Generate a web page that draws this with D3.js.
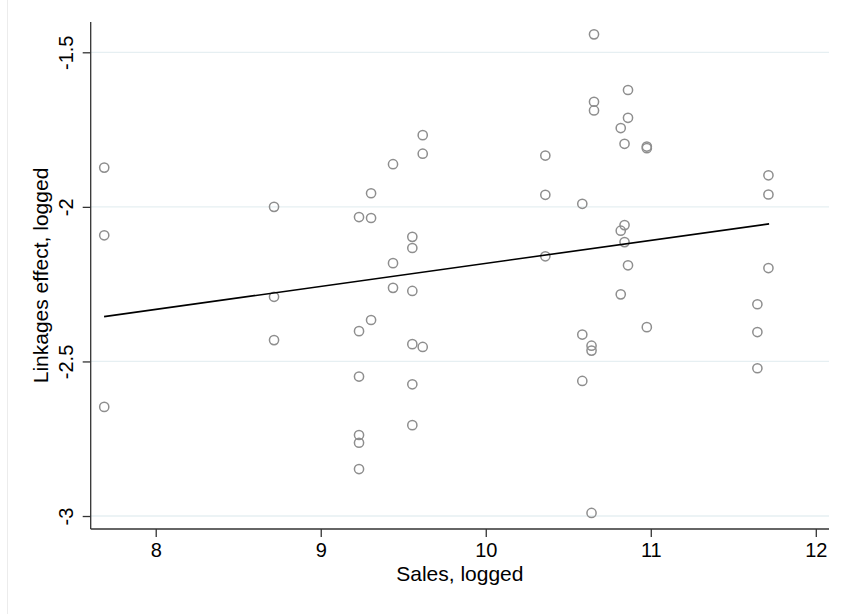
<!DOCTYPE html>
<html>
<head>
<meta charset="utf-8">
<script src="https://cdn.jsdelivr.net/npm/d3@7"></script>
<style>
  html, body { margin: 0; padding: 0; background: #ffffff; }
  svg { display: block; }
  text { font-family: Arial, "Liberation Sans", Helvetica, sans-serif; fill: #000; }
</style>
</head>
<body>
<svg id="chart" width="845" height="614"></svg>
<script>
// Data
const salesLogged = [
  7.688, 7.688, 7.688,
  8.717, 8.717, 8.717,
  9.232, 9.232, 9.232, 9.232, 9.232, 9.232,
  9.305, 9.305, 9.305,
  9.438, 9.438, 9.438,
  9.555, 9.555, 9.555, 9.555, 9.555, 9.555,
  9.618, 9.618, 9.618,
  10.361, 10.361, 10.361,
  10.585, 10.585, 10.585,
  10.641, 10.641, 10.641,
  10.656, 10.656, 10.656,
  10.818, 10.818, 10.818,
  10.841, 10.841, 10.841,
  10.862, 10.862, 10.862,
  10.976, 10.976, 10.976,
  11.646, 11.646, 11.646,
  11.713, 11.713, 11.713
];
const linkagesLogged = [
  -1.873, -2.092, -2.647,
  -2.000, -2.291, -2.431,
  -2.033, -2.402, -2.549, -2.738, -2.763, -2.848,
  -1.956, -2.036, -2.366,
  -1.862, -2.182, -2.262,
  -2.097, -2.133, -2.272, -2.444, -2.574, -2.706,
  -1.768, -1.828, -2.453,
  -1.834, -1.961, -2.160,
  -1.990, -2.413, -2.563,
  -2.449, -2.465, -2.990,
  -1.442, -1.660, -1.688,
  -1.745, -2.077, -2.283,
  -1.796, -2.059, -2.114,
  -1.622, -1.712, -2.189,
  -1.805, -1.810, -2.389,
  -2.315, -2.405, -2.522,
  -1.898, -1.960, -2.198
];
// Fitted line endpoints (linear fit)
const fitX = [7.687, 11.717];
const fitY = [-2.355, -2.055];
const xTicks = [8, 9, 10, 11, 12];
const yTicks = [-1.5, -2, -2.5, -3];
const yTickLabels = ["-1.5", "-2", "-2.5", "-3"];
const xTitle = "Sales, logged";
const yTitle = "Linkages effect, logged";

const svg = d3.select("#chart");
const x = d3.scaleLinear().domain([7.606, 12.08]).range([90.7, 829]);
const y = d3.scaleLinear().domain([-3.042, -1.402]).range([529, 22]);

// faint outer frame edge
svg.append("line").attr("x1", 7.5).attr("x2", 7.5).attr("y1", 0).attr("y2", 614)
  .attr("stroke", "#ececec").attr("stroke-width", 1);

// gridlines
svg.append("g").selectAll("line").data(yTicks).join("line")
  .attr("x1", x.range()[0]).attr("x2", 829)
  .attr("y1", d => y(d)).attr("y2", d => y(d))
  .attr("stroke", "#e6eff2").attr("stroke-width", 1.3);

// y axis
const yAxis = d3.axisLeft(y).tickValues(yTicks).tickSize(8).tickPadding(10)
  .tickFormat((d, i) => yTickLabels[i]);
const gy = svg.append("g").attr("transform", `translate(${x.range()[0]},0)`).call(yAxis);
gy.select(".domain").attr("d", `M0,22V529`).attr("stroke", "#333").attr("stroke-width", 1.3);
gy.selectAll(".tick line").attr("stroke", "#333").attr("stroke-width", 1.3);
gy.selectAll(".tick text")
  .attr("font-size", 20).attr("font-family", "Arial, 'Liberation Sans', sans-serif")
  .attr("x", null).attr("dy", null)
  .attr("text-anchor", "middle")
  .attr("transform", "translate(-18,0) rotate(-90)")
  .attr("y", 0);

// x axis
const xAxis = d3.axisBottom(x).tickValues(xTicks).tickSize(8).tickPadding(6)
  .tickFormat(d => String(d));
const gx = svg.append("g").attr("transform", "translate(0,529)").call(xAxis);
gx.select(".domain").attr("d", `M${x.range()[0]},0H829`).attr("stroke", "#333").attr("stroke-width", 1.3);
gx.selectAll(".tick line").attr("stroke", "#333").attr("stroke-width", 1.3);
gx.selectAll(".tick text")
  .attr("font-size", 20).attr("font-family", "Arial, 'Liberation Sans', sans-serif")
  .attr("dy", null).attr("y", 28);

// points
svg.append("g").selectAll("circle").data(salesLogged.map((v, i) => [v, linkagesLogged[i]]))
  .join("circle")
  .attr("cx", d => x(d[0])).attr("cy", d => y(d[1]))
  .attr("r", 4.6)
  .attr("fill", "none").attr("stroke", "#8e8e8e").attr("stroke-width", 1.5);

// fit line
svg.append("path")
  .datum(fitX.map((v, i) => [v, fitY[i]]))
  .attr("d", d3.line().x(d => x(d[0])).y(d => y(d[1])))
  .attr("fill", "none").attr("stroke", "#000").attr("stroke-width", 1.6);

// titles
svg.append("text").attr("x", (x.range()[0] + 829) / 2).attr("y", 581)
  .attr("text-anchor", "middle").attr("font-size", 21).text(xTitle);
svg.append("text")
  .attr("transform", `translate(48,${(22 + 529) / 2}) rotate(-90)`)
  .attr("text-anchor", "middle").attr("font-size", 21).text(yTitle);
</script>
</body>
</html>
